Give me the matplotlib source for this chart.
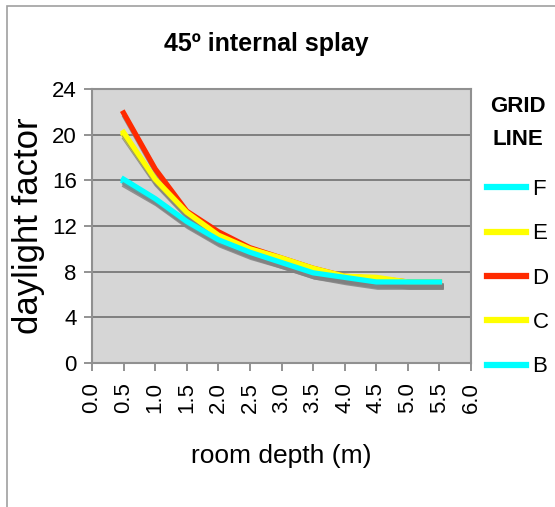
import matplotlib
matplotlib.use("Agg")
import matplotlib.pyplot as plt
import matplotlib.patheffects as pe
from matplotlib.patches import Rectangle

# room depth (m) and daylight factor per grid line
depth = [0.5, 1.0, 1.5, 2.0, 2.5, 3.0, 3.5, 4.0, 4.5, 5.0, 5.5]
line_b = [15.9, 14.3, 12.3, 10.7, 9.6, 8.8, 7.9, 7.4, 7.0, 7.0, 7.0]
line_c = [20.0, 16.0, 13.1, 11.1, 9.9, 9.1, 8.2, 7.5, 7.4, 7.0, 7.0]
line_d = [21.9, 17.0, 13.3, 11.5, 10.1, 9.2, 8.3, 7.6, 7.4, 7.1, 7.1]
line_e = [20.2, 16.1, 13.2, 11.2, 10.0, 9.2, 8.3, 7.6, 7.5, 7.1, 7.1]
line_f = [16.1, 14.4, 12.4, 10.8, 9.7, 8.8, 7.9, 7.5, 7.1, 7.1, 7.1]

names = ["B", "C", "D", "E", "F"]
series = [line_b, line_c, line_d, line_e, line_f]
colors = ["#00FFFF", "#FFFF00", "#FF2A00", "#FFFF00", "#00FFFF"]

xticks = [i * 0.5 for i in range(13)]
yticks = [0, 4, 8, 12, 16, 20, 24]

plt.rcParams["font.family"] = ["Liberation Sans", "DejaVu Sans"]

fig = plt.figure(figsize=(5.55, 5.07), dpi=100)
# partial outer frame of the chart
fig.patches.append(Rectangle((7 / 555, -0.1), 1.2, 1 - 6 / 507 + 0.1,
                             transform=fig.transFigure, fill=False,
                             edgecolor="#a0a0a0", lw=1.2))

ax = fig.add_axes([92 / 555, 1 - 363 / 507, (471 - 92) / 555, (363 - 89) / 507])
ax.set_facecolor("#D6D6D6")

shadow = [pe.SimpleLineShadow(offset=(1.2, -3.0), shadow_color="#808080", alpha=0.8), pe.Normal()]
handles = []
for name, vals, c in zip(names, series, colors):
    h, = ax.plot(depth, vals, color=c, lw=3.8, label=name, path_effects=shadow)
    handles.append(h)

ax.set_xlim(0, 6)
ax.set_ylim(0, 24)
ax.set_xticks(xticks)
ax.set_xticklabels(["%.1f" % v for v in xticks], rotation=90, fontsize=16)
ax.set_yticks(yticks)
ax.set_yticklabels([str(v) for v in yticks], fontsize=16)
ax.yaxis.grid(True, color="#707070", lw=1.2)
ax.set_axisbelow(True)
for s in ax.spines.values():
    s.set_color("#909090")
    s.set_linewidth(1.5)
ax.tick_params(colors="#808080", labelcolor="black", length=6, width=1.2)
ax.tick_params(axis="x", pad=8)
ax.tick_params(axis="y", pad=5)

ax.set_xlabel("room depth (m)", fontsize=19, labelpad=22)
ax.set_ylabel("daylight factor", fontsize=25, labelpad=5)
fig.text(266 / 555, 1 - 44 / 507, "45º internal splay", ha="center", va="center",
         fontsize=18, fontweight="bold")

# legend heading and entries
fig.text(518 / 555, 1 - 123 / 507, "GRID\nLINE", ha="center", va="center",
         fontsize=16, fontweight="bold", linespacing=1.7)
leg = fig.legend(handles[::-1], names[::-1],
                 loc="upper left", bbox_to_anchor=(487 / 555, 1 - 179 / 507),
                 frameon=False, fontsize=16, handlelength=1.75, handletextpad=0.3,
                 labelspacing=1.05, borderpad=0, borderaxespad=0)
for lh in leg.get_lines():
    lh.set_linewidth(4.5)
    lh.set_path_effects([])

fig.savefig("out.png", dpi=100)
